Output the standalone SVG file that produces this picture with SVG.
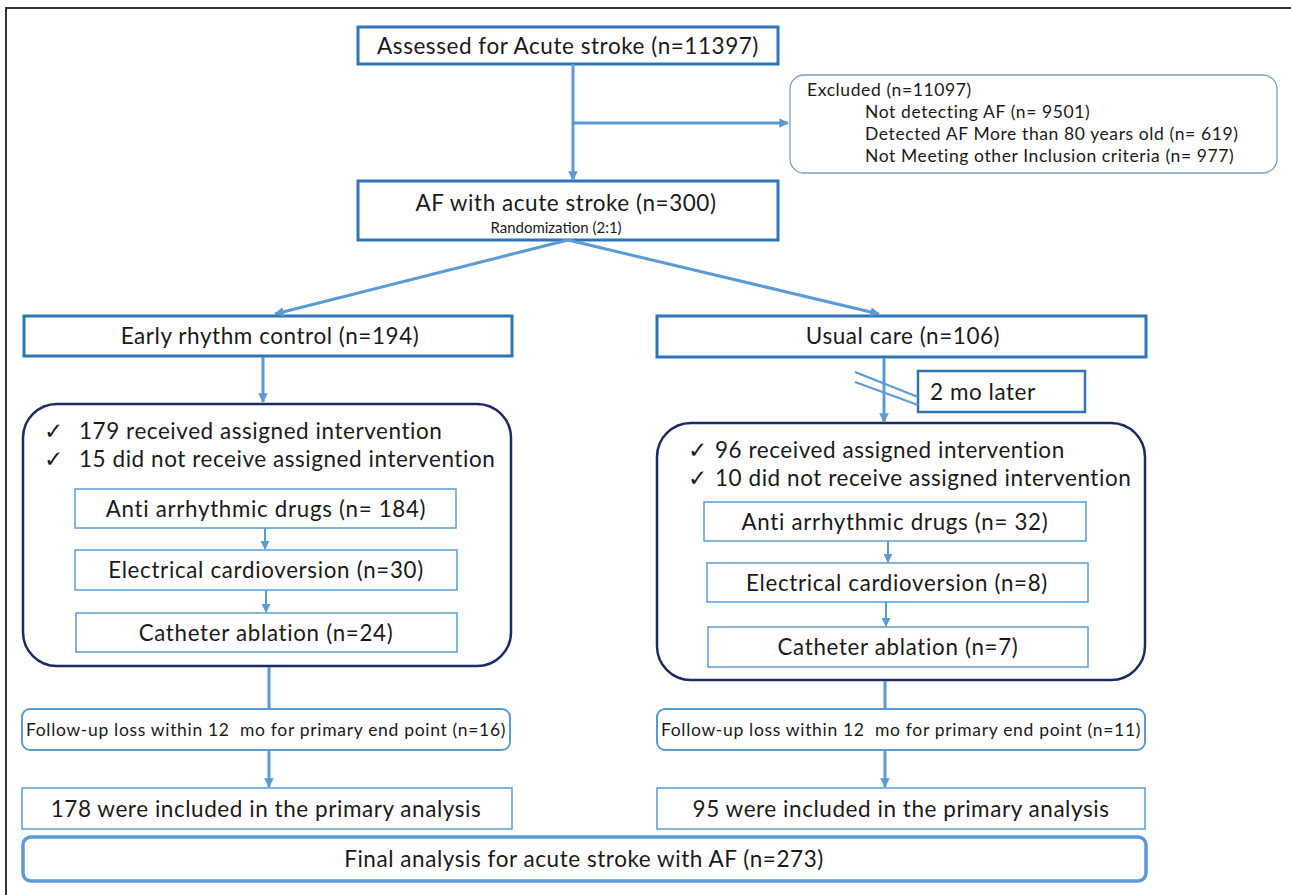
<svg xmlns="http://www.w3.org/2000/svg" width="1291" height="895" viewBox="0 0 1291 895">
<style>
text{font-family:Lato,"Noto Sans",sans-serif;fill:#1a1a1a;white-space:pre}
.main{fill:#fff;stroke:#2e75b6;stroke-width:3}
.thin{fill:#fff;stroke:#5b9bd5;stroke-width:1.5}
.navy{fill:#fff;stroke:#1c2a66;stroke-width:2.5}
.fu{fill:#fff;stroke:#5b9bd5;stroke-width:2}
.exc{fill:#fff;stroke:#7f9fc4;stroke-width:1.3}
.ln{stroke:#5b9bd5;stroke-width:3;fill:none}
.ln2{stroke:#5b9bd5;stroke-width:2;fill:none}
.t21{font-size:22.5px;letter-spacing:0.55px}
.t20{font-size:22.3px;letter-spacing:0.7px}
.t16{font-size:17.5px;letter-spacing:0.6px}
.fut{font-size:17.5px;letter-spacing:0.68px}
.t14{font-size:15px}
</style>
<defs>
<marker id="ah" viewBox="0 0 10 10" refX="9" refY="5" markerWidth="3.2" markerHeight="3.2" orient="auto" markerUnits="strokeWidth">
<path d="M0,0 L10,5 L0,10 z" fill="#5b9bd5"/>
</marker>
<marker id="ah2" viewBox="0 0 10 10" refX="9" refY="5" markerWidth="4.5" markerHeight="4.5" orient="auto" markerUnits="strokeWidth">
<path d="M0,0 L10,5 L0,10 z" fill="#5b9bd5"/>
</marker>
</defs>
<rect width="1291" height="895" fill="#fff"/>
<g id="frame"><path d="M6,895 V8 H1291" fill="none" stroke="#333" stroke-width="2"/></g>

<g id="assessed">
<rect class="main" x="358" y="27" width="420" height="37"/>
<text class="t21" x="568" y="54" text-anchor="middle">Assessed for Acute stroke (n=11397)</text>
</g>

<g id="excluded">
<rect class="exc" x="790" y="75" width="487" height="98" rx="14"/>
<text class="t16"><tspan x="807" y="96">Excluded (n=11097)</tspan><tspan x="865" y="118">Not detecting AF (n= 9501)</tspan><tspan x="865" y="140">Detected AF More than 80 years old (n= 619)</tspan><tspan x="865" y="162">Not Meeting other Inclusion criteria (n= 977)</tspan></text>
</g>

<g id="af">
<rect class="main" x="358" y="181" width="420" height="59"/>
<text class="t21" x="566" y="211" text-anchor="middle">AF with acute stroke (n=300)</text>
<text class="t14" x="556" y="233" text-anchor="middle">Randomization (2:1)</text>
</g>

<g id="early">
<rect class="main" x="24" y="316" width="488" height="40"/>
<text class="t21" x="270" y="344" text-anchor="middle">Early rhythm control (n=194)</text>
</g>

<g id="usual">
<rect class="main" x="657" y="316" width="489" height="41"/>
<text class="t21" x="903" y="344" text-anchor="middle">Usual care (n=106)</text>
</g>

<g id="later">
<rect class="main" style="stroke-width:2.5" x="918" y="371" width="167" height="41"/>
<text class="t21" x="930" y="400">2 mo later</text>
</g>

<g id="left-group">
<rect class="navy" x="23" y="404" width="488" height="262" rx="34"/>
<text class="t21"><tspan x="44" y="439">✓</tspan><tspan x="79" y="439">179 received assigned intervention</tspan><tspan x="44" y="467">✓</tspan><tspan x="79" y="467">15 did not receive assigned intervention</tspan></text>
</g>
<g id="left-aad">
<rect class="thin" x="75" y="489" width="381" height="39"/>
<text class="t20" x="266" y="517" text-anchor="middle">Anti arrhythmic drugs (n= 184)</text>
</g>
<g id="left-ec">
<rect class="thin" x="75" y="550" width="382" height="40"/>
<text class="t20" x="266" y="578" text-anchor="middle">Electrical cardioversion (n=30)</text>
</g>
<g id="left-ca">
<rect class="thin" x="76" y="613" width="381" height="39"/>
<text class="t20" x="266" y="641" text-anchor="middle">Catheter ablation (n=24)</text>
</g>

<g id="right-group">
<rect class="navy" x="657" y="423" width="488" height="257" rx="34"/>
<text class="t21"><tspan x="688" y="458">✓</tspan><tspan x="715" y="458">96 received assigned intervention</tspan><tspan x="688" y="486">✓</tspan><tspan x="715" y="486">10 did not receive assigned intervention</tspan></text>
</g>
<g id="right-aad">
<rect class="thin" x="704" y="502" width="382" height="39"/>
<text class="t20" x="895" y="530" text-anchor="middle">Anti arrhythmic drugs (n= 32)</text>
</g>
<g id="right-ec">
<rect class="thin" x="707" y="563" width="381" height="39"/>
<text class="t20" x="897" y="591" text-anchor="middle">Electrical cardioversion (n=8)</text>
</g>
<g id="right-ca">
<rect class="thin" x="708" y="627" width="380" height="40"/>
<text class="t20" x="898" y="655" text-anchor="middle">Catheter ablation (n=7)</text>
</g>

<g id="left-fu">
<rect class="fu" x="22" y="709" width="488" height="41" rx="8"/>
<text class="fut" x="266" y="736" text-anchor="middle">Follow-up loss within 12  mo for primary end point (n=16)</text>
</g>
<g id="right-fu">
<rect class="fu" x="657" y="709" width="488" height="41" rx="8"/>
<text class="fut" x="901" y="736" text-anchor="middle">Follow-up loss within 12  mo for primary end point (n=11)</text>
</g>

<g id="left-incl">
<rect class="thin" x="22" y="788" width="490" height="41"/>
<text class="t21" x="266" y="817" text-anchor="middle">178 were included in the primary analysis</text>
</g>
<g id="right-incl">
<rect class="thin" x="657" y="788" width="488" height="41"/>
<text class="t21" x="901" y="817" text-anchor="middle">95 were included in the primary analysis</text>
</g>

<g id="final">
<rect class="fu" style="stroke-width:3.5" x="23" y="837" width="1123" height="44" rx="8"/>
<text class="t21" x="584" y="867" text-anchor="middle">Final analysis for acute stroke with AF (n=273)</text>
</g>

<g id="connectors">
<path class="ln" d="M573,64 V180" marker-end="url(#ah)"/>
<path class="ln" d="M573,123 H788" marker-end="url(#ah)"/>
<path class="ln" d="M568,240 L275,314" marker-end="url(#ah)"/>
<path class="ln" d="M568,240 L879,314" marker-end="url(#ah)"/>
<path class="ln" d="M263,357 V402" marker-end="url(#ah)"/>
<path class="ln" d="M884,358 V422" marker-end="url(#ah)"/>
<path d="M855,372 L918,397 M855,382 L918,405" stroke="#5b9bd5" stroke-width="2" fill="none"/>
<path class="ln2" d="M265,528 V549" marker-end="url(#ah2)"/>
<path class="ln2" d="M266,590 V612" marker-end="url(#ah2)"/>
<path class="ln2" d="M888,541 V562" marker-end="url(#ah2)"/>
<path class="ln2" d="M886,602 V626" marker-end="url(#ah2)"/>
<path class="ln" d="M269,667 V709"/>
<path class="ln" d="M269,750 V787" marker-end="url(#ah)"/>
<path class="ln" d="M885,681 V709"/>
<path class="ln" d="M885,750 V787" marker-end="url(#ah)"/>
</g>
</svg>
